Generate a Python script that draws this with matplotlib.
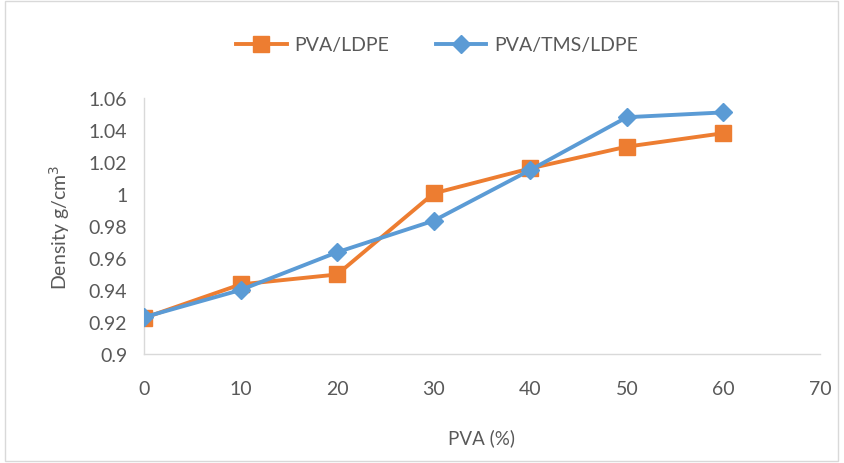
import matplotlib
matplotlib.use("Agg")
import matplotlib.pyplot as plt
from matplotlib.patches import Rectangle

plt.rcParams['font.family'] = ['Lato', 'DejaVu Sans']

pva = [0, 10, 20, 30, 40, 50, 60]
pva_ldpe = [0.9225, 0.9435, 0.9497, 1.0004, 1.016, 1.0296, 1.038]
pva_tms_ldpe = [0.923, 0.940, 0.9636, 0.9833, 1.015, 1.048, 1.051]
xticks = [0, 10, 20, 30, 40, 50, 60, 70]
yticks = [0.9, 0.92, 0.94, 0.96, 0.98, 1.0, 1.02, 1.04, 1.06]
ytick_labels = ["0.9", "0.92", "0.94", "0.96", "0.98", "1", "1.02", "1.04", "1.06"]

W, H = 845, 464
fig = plt.figure(figsize=(W/100, H/100), dpi=100)
ax = fig.add_axes([144/W, 1-355/H, (820-144)/W, (355-99)/H])

orange = '#ED7D31'
blue = '#5B9BD5'
ax.plot(pva, pva_ldpe, color=orange, lw=2.8, marker='s', ms=11.5, label='PVA/LDPE', zorder=3)
ax.plot(pva, pva_tms_ldpe, color=blue, lw=2.8, marker='D', ms=9, label='PVA/TMS/LDPE', zorder=4)

ax.set_xlim(0, 70)
ax.set_ylim(0.9, 1.06)
ax.set_xticks(xticks)
ax.set_yticks(yticks)
ax.set_yticklabels(ytick_labels)
for s in ['top', 'right']:
    ax.spines[s].set_visible(False)
for s in ['left', 'bottom']:
    ax.spines[s].set_color('#D9D9D9')
    ax.spines[s].set_linewidth(1.0)
ax.tick_params(length=0, labelsize=14, colors='#595959')
ax.tick_params(axis='x', pad=19)
ax.tick_params(axis='y', pad=12)
ax.set_xlabel('PVA (%)', fontsize=13.5, color='#595959', labelpad=22)
ax.set_ylabel('Density g/cm$^3$', fontsize=14, color='#595959', labelpad=12)
for lab in ax.get_xticklabels() + ax.get_yticklabels():
    lab.set_clip_on(False)

leg = fig.legend(loc='center', bbox_to_anchor=(437/W, 1-46/H), ncol=2, frameon=False,
                 fontsize=14, labelcolor='#595959', handlelength=2.6, columnspacing=2.4,
                 handletextpad=0.4)

fig.patches.append(Rectangle((5/W, 2/H), (838-5)/W, (462-2)/H, transform=fig.transFigure,
                             fill=False, edgecolor='#D9D9D9', lw=1))
fig.savefig('out.png', dpi=100)
